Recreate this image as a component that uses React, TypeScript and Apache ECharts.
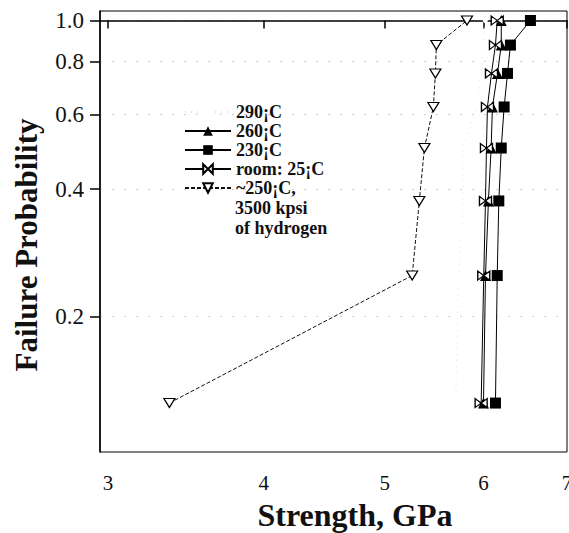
import React, { useEffect, useRef } from 'react';
import * as echarts from 'echarts';

// Failure probability (rank i/8) shared by every series
const failureProb = [0.125, 0.25, 0.375, 0.5, 0.625, 0.75, 0.875, 1.0];

// Strength values (GPa) for each series
const strength290 = [5.7, 5.73, 5.78, 5.77, 5.93, 5.97, 6.0, 6.02];
const strength260 = [6.0, 6.022, 6.055, 6.085, 6.1, 6.157, 6.2, 6.2];
const strength230 = [6.134, 6.154, 6.172, 6.2, 6.233, 6.272, 6.306, 6.543];
const strength25 = [5.974, 6.003, 6.022, 6.033, 6.044, 6.089, 6.134, 6.154];
const strengthH2 = [3.36, 5.26, 5.33, 5.38, 5.47, 5.49, 5.5, 5.82];

const seriesNames = ['290¡C', '260¡C', '230¡C', 'room: 25¡C', '~250¡C, 3500 kpsi of hydrogen'];

// Axis ticks
const xTicks = [3, 4, 5, 6, 7];
const yTicks = [0.2, 0.4, 0.6, 0.8, 1.0];
const xRange = [2.956, 7.0];
const yRange = [0.0958, 1.053];

const FONT = 'Liberation Serif, Times New Roman, serif';

const toPts = (xs: number[]) => xs.map((x, i) => [Math.log(x), Math.log(failureProb[i])]);

const bowtie = 'path://M0,0L10,5L0,10Z M20,0L10,5L20,10Z';
const downTri = 'path://M0,0L10,0L5,9Z';

export default function App() {
  const ref = useRef<HTMLDivElement>(null);
  useEffect(() => {
    const chart = echarts.init(ref.current!, null, { renderer: 'svg' });
    const baseLine = { color: '#000', width: 1 };
    chart.setOption({
      animation: false,
      backgroundColor: '#fff',
      textStyle: { fontFamily: FONT },
      grid: {
        left: 100,
        right: 2,
        top: 11,
        bottom: 81,
        containLabel: false,
        outerBoundsMode: 'none',
        show: true,
        borderColor: '#000',
        borderWidth: 1,
      },
      legend: {
        left: 184,
        top: 103,
        padding: 0,
        orient: 'vertical',
        itemWidth: 46,
        itemHeight: 12,
        itemGap: 1,
        data: seriesNames,
        formatter: (n: string) => (n === seriesNames[4] ? '~250¡C,' : n),
        textStyle: { fontFamily: FONT, fontWeight: 'bold', fontSize: 18, color: '#111', lineHeight: 18 },
      },
      graphic: [
        {
          type: 'text',
          left: 235,
          top: 198,
          style: {
            text: '3500 kpsi\nof hydrogen',
            font: 'bold 18px Liberation Serif',
            lineHeight: 20,
            fill: '#111',
          },
        },
      ],
      xAxis: {
        type: 'value',
        min: Math.log(xRange[0]),
        max: Math.log(xRange[1]),
        axisLine: { show: true, lineStyle: { color: '#000', width: 1.5 } },
        axisTick: { show: true, customValues: xTicks.map(Math.log), length: 8, lineStyle: { color: '#000', width: 1.5 } },
        axisLabel: {
          customValues: xTicks.map(Math.log),
          formatter: (v: number) => String(Math.round(Math.exp(v))),
          margin: 20,
          fontSize: 21,
          color: '#111',
          fontFamily: FONT,
        },
        splitLine: { show: false },
        name: 'Strength, GPa',
        nameLocation: 'middle',
        nameGap: 47,
        nameTextStyle: { fontFamily: FONT, fontWeight: 'bold', fontSize: 32, color: '#111', padding: [0, 0, 0, 43] },
      },
      yAxis: {
        type: 'value',
        min: Math.log(yRange[0]),
        max: Math.log(yRange[1]),
        axisLine: { show: true, lineStyle: { color: '#000', width: 1.5 } },
        axisTick: { show: true, customValues: yTicks.map(Math.log), length: 10, lineStyle: { color: '#000', width: 1.5 } },
        axisLabel: {
          customValues: yTicks.map(Math.log),
          formatter: (v: number) => Math.exp(v).toFixed(1),
          margin: 16,
          fontSize: 23,
          color: '#111',
          fontFamily: FONT,
        },
        splitLine: { show: true, lineStyle: { color: '#cfcfcf', width: 1, type: [2, 10] } },
        name: 'Failure Probability',
        nameLocation: 'middle',
        nameGap: 58,
        nameRotate: 90,
        nameTextStyle: { fontFamily: FONT, fontWeight: 'bold', fontSize: 31, color: '#111', padding: [0, 27, 0, 0] },
      },
      series: [
        {
          name: seriesNames[0],
          type: 'line',
          data: toPts(strength290),
          symbol: 'emptyCircle',
          symbolSize: 3,
          lineStyle: { color: '#dedede', width: 1, type: [1, 5] },
          itemStyle: { color: '#fff', borderColor: '#d8d8d8', borderWidth: 1 },
        },
        {
          name: seriesNames[1],
          type: 'line',
          data: toPts(strength260),
          symbol: 'triangle',
          symbolSize: 11,
          lineStyle: baseLine,
          itemStyle: { color: '#000' },
        },
        {
          name: seriesNames[2],
          type: 'line',
          data: toPts(strength230),
          symbol: 'rect',
          symbolSize: 11,
          lineStyle: baseLine,
          itemStyle: { color: '#000' },
        },
        {
          name: seriesNames[3],
          type: 'line',
          data: toPts(strength25),
          symbol: bowtie,
          symbolSize: [12, 9],
          lineStyle: baseLine,
          itemStyle: { color: '#fff', borderColor: '#000', borderWidth: 1.2 },
        },
        {
          name: seriesNames[4],
          type: 'line',
          data: toPts(strengthH2),
          symbol: downTri,
          symbolSize: [11, 9],
          lineStyle: { color: '#111', width: 1, type: [4, 2] },
          itemStyle: { color: '#fff', borderColor: '#000', borderWidth: 1.2 },
        },
      ],
    });
    return () => chart.dispose();
  }, []);
  return <div ref={ref} style={{ position: 'fixed', left: 0, top: 0, width: 569, height: 533 }} />;
}
